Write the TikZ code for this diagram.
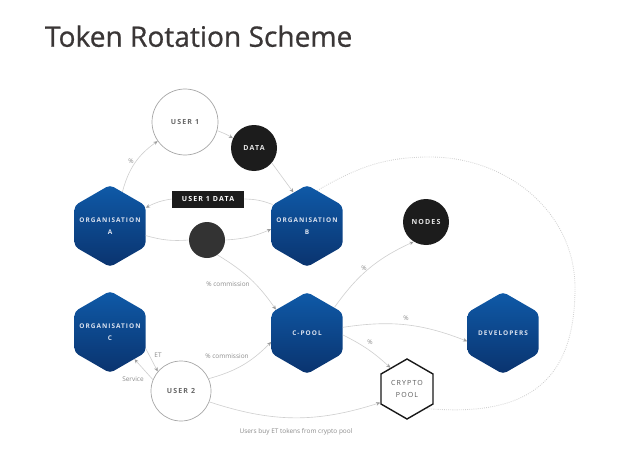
\documentclass[tikz,border=0pt]{standalone}
\usepackage{fontspec}
\setmainfont{Open Sans}
\newfontfamily\spacedfont[LetterSpace=16]{Open Sans}
\newfontfamily\titlefont[FakeBold=0.7]{Open Sans}
\usepackage{tikz}
\usetikzlibrary{arrows.meta,shapes.geometric}
\definecolor{hexTop}{HTML}{0F5AA8}
\definecolor{hexBottom}{HTML}{0A336E}
\definecolor{lineGray}{HTML}{D0D0D0}
\definecolor{tipGray}{HTML}{9C9C9C}
\definecolor{labelGray}{HTML}{8A8A8A}
\definecolor{titleGray}{HTML}{3A3636}
\definecolor{coinBlack}{HTML}{1C1C1C}
\definecolor{hexText}{HTML}{DCE3F0}

\begin{document}
\begin{tikzpicture}[
  hexlabel/.style={text=hexText, align=center, inner sep=0pt,
    font=\spacedfont\bfseries\fontsize{4.6}{8.5}\selectfont},
  hexnode/.style={regular polygon, regular polygon sides=6, shape border rotate=30,
    minimum size=2.05cm, inner sep=0pt, rounded corners=3pt,
    top color=hexTop, bottom color=hexBottom,
    label={[hexlabel]center:{#1}}},
  usercircle/.style={circle, draw=black!35, line width=0.5pt, fill=white,
    minimum size=#1, inner sep=0pt, text=black!60,
    font=\spacedfont\bfseries\fontsize{5}{6}\selectfont},
  darkcircle/.style={circle, fill=coinBlack, minimum size=1.15cm, inner sep=0pt,
    text=white!90!black, font=\spacedfont\bfseries\fontsize{5}{6}\selectfont},
  flow/.style={draw=lineGray, line width=0.45pt},
  flowarrow/.style={-{Stealth[length=3pt,width=2.6pt,color=tipGray]}},
  ring/.style={draw=lineGray, line width=0.6pt, dash pattern=on 0.6pt off 0.9pt},
  note/.style={text=labelGray, font=\fontsize{4.6}{5.5}\selectfont}
]
\useasboundingbox (0,0) rectangle (16,11.625);
\node[anchor=west, text=titleGray, font=\titlefont\fontsize{20}{24}\selectfont] (title) at (1.0,10.72) {Token Rotation Scheme};

% 1) nodes
\node[usercircle=1.65cm] (user1) at (4.625,8.575) {USER 1};
\node[darkcircle] (data) at (6.35,7.925) {DATA};
\node[fill=coinBlack, text=white, minimum width=1.8cm, minimum height=0.425cm, inner sep=0pt,
  font=\spacedfont\bfseries\fontsize{5}{6}\selectfont] (u1data) at (5.2,6.65) {USER 1 DATA};
\node[hexnode={ORGANISATION\\A}] (orgA) at (2.75,5.975) {};
\node[hexnode={ORGANISATION\\B}] (orgB) at (7.675,5.975) {};
\node[circle, fill=coinBlack!90!white, minimum size=0.9cm, inner sep=0pt,
  path picture={\draw[black!80!white, line width=0.3pt] (path picture bounding box.center) circle (0.28cm);}]
  (coin) at (5.175,5.625) {};
\node[darkcircle] (nodes) at (10.65,6.075) {NODES};
\node[hexnode={ORGANISATION\\C}] (orgC) at (2.75,3.325) {};
\node[hexnode={C-POOL}] (cpool) at (7.675,3.3) {};
\node[hexnode={DEVELOPERS}] (devs) at (12.575,3.3) {};
\node[regular polygon, regular polygon sides=6, shape border rotate=30, minimum size=1.5cm,
  inner sep=0pt, draw=black!90, line width=1pt, fill=white, text=black!65, align=center,
  font=\spacedfont\fontsize{5}{8}\selectfont] (crypto) at (10.175,1.9) {CRYPTO\\POOL};
\node[usercircle=1.5cm] (user2) at (4.525,1.85) {USER 2};
\coordinate (ringTop) at (10.75,7.7);
\coordinate (ringRight) at (14.375,4.425);

% 2) connectors
\draw[flow,flowarrow] (orgA.70) to[bend left=20] (user1.215);
\draw[flow,flowarrow] (user1.-15) to[bend left=5] (data.155);
\draw[flow,flowarrow] (data.-40) -- (orgB.112);
\draw[flow] (orgB.148) to[bend right=10] (u1data.east);
\draw[flow,flowarrow] (u1data.west) to[bend right=10] (orgA.27);
\draw[flow] (orgA.-15) to[bend right=10] (coin.west);
\draw[flow,flowarrow] (coin.east) to[bend right=10] (orgB.185);
\draw[flow,flowarrow] (coin.-55) to[bend left=12] (cpool.143);
\draw[flow,flowarrow] (user2.24) to[bend right=15] (cpool.194);
\draw[flow,flowarrow] (orgC.-25) -- (user2.140);
\draw[flow,flowarrow] (user2.158) -- (orgC.-48);
\draw[flow,flowarrow] (cpool.43) to[bend left=15] (nodes.238);
\draw[flow,flowarrow] (cpool.9) to[bend left=15] (devs.193);
\draw[flow,flowarrow] (cpool.-3) to[bend left=8] (crypto.128);
\draw[flow,flowarrow] (user2.-21) to[bend right=18] (crypto.207);
\draw[ring] (orgB.74) to[out=30,in=180] (ringTop) to[out=0,in=90] (ringRight)
  to[out=-90,in=-5,looseness=1.3] (crypto.-45);

% 3) labels
\node[note] (pA) at (3.275,7.6) {\%};
\node[note] (commA) at (5.7,4.525) {\% commission};
\node[note] (commB) at (5.675,2.725) {\% commission};
\node[note] (et) at (3.95,2.75) {ET};
\node[note] (service) at (3.325,2.15) {Service};
\node[note] (pNodes) at (9.1,4.925) {\%};
\node[note] (pDevs) at (10.15,3.675) {\%};
\node[note] (pCrypto) at (9.25,3.075) {\%};
\node[note] (buy) at (7.4,0.825) {Users buy ET tokens from crypto pool};
\end{tikzpicture}
\end{document}
